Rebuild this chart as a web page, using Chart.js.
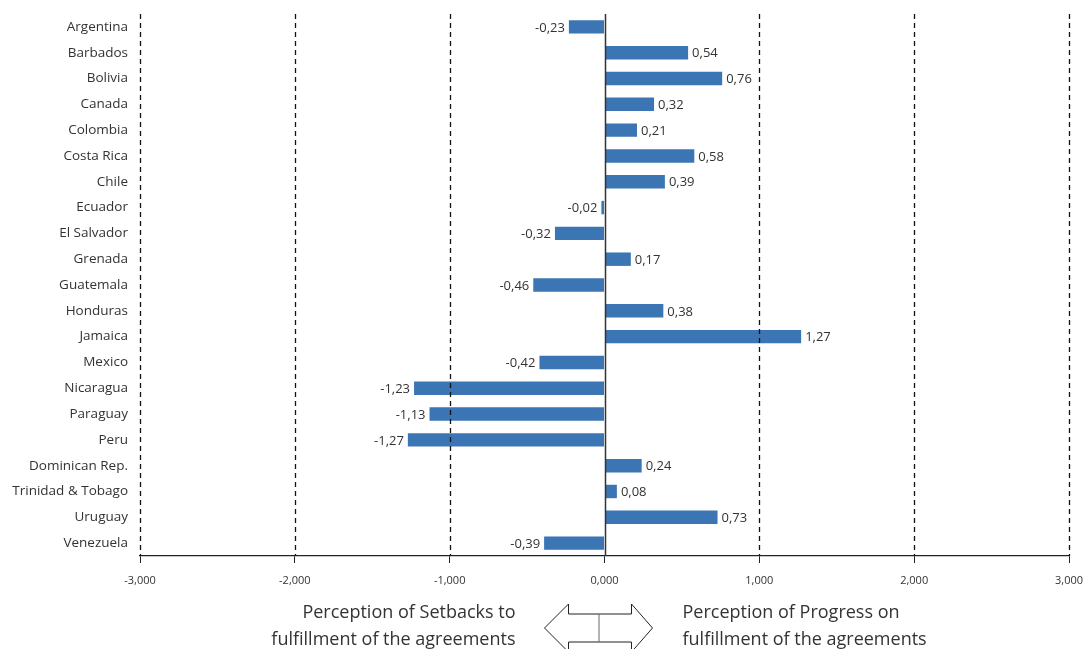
<!DOCTYPE html>
<html lang="en">
<head>
  <meta charset="UTF-8">
  <title>Perception of progress on agreements</title>
  <script src="https://cdn.jsdelivr.net/npm/chart.js"></script>
  <style>
    body { margin: 0; background: #fff; }
    #wrap { width: 1083px; height: 649px; position: relative; }
  </style>
</head>
<body>
  <div id="wrap"><canvas id="perceptionChart"></canvas></div>

  <script>
    const countries = ['Argentina', 'Barbados', 'Bolivia', 'Canada', 'Colombia', 'Costa Rica', 'Chile',
      'Ecuador', 'El Salvador', 'Grenada', 'Guatemala', 'Honduras', 'Jamaica', 'Mexico', 'Nicaragua',
      'Paraguay', 'Peru', 'Dominican Rep.', 'Trinidad & Tobago', 'Uruguay', 'Venezuela'];
    const scores = [-0.23, 0.54, 0.76, 0.32, 0.21, 0.58, 0.39, -0.02, -0.32, 0.17, -0.46, 0.38, 1.27,
      -0.42, -1.23, -1.13, -1.27, 0.24, 0.08, 0.73, -0.39];
    const xTicks = [-3, -2, -1, 0, 1, 2, 3];
    const leftNote = ['Perception of Setbacks to', 'fulfillment of the agreements'];
    const rightNote = ['Perception of Progress on', 'fulfillment of the agreements'];

    const FONT = '"Open Sans", "DejaVu Sans", sans-serif';
    const comma = (v, d) => v.toFixed(d).replace('.', ',');

    // dashed grid drawn over the bars, solid line at zero
    const gridOnTop = {
      id: 'gridOnTop',
      afterDatasetsDraw(chart) {
        const ctx = chart.ctx, x = chart.scales.x, area = chart.chartArea;
        ctx.save();
        xTicks.forEach(t => {
          const px = Math.round(x.getPixelForValue(t)) + 0.5;
          ctx.beginPath();
          ctx.lineWidth = t === 0 ? 1.5 : 1.3;
          ctx.strokeStyle = t === 0 ? '#333' : '#111';
          ctx.setLineDash(t === 0 ? [] : [5, 4]);
          ctx.moveTo(px, area.top);
          ctx.lineTo(px, area.bottom);
          ctx.stroke();
        });
        ctx.restore();
      }
    };

    const valueLabels = {
      id: 'valueLabels',
      afterDatasetsDraw(chart) {
        const ctx = chart.ctx;
        const meta = chart.getDatasetMeta(0);
        ctx.save();
        ctx.font = '13px ' + FONT;
        ctx.fillStyle = '#333';
        ctx.textBaseline = 'middle';
        meta.data.forEach((bar, i) => {
          const v = scores[i];
          ctx.textAlign = v < 0 ? 'right' : 'left';
          ctx.fillText(comma(v, 2), bar.x + (v < 0 ? -4 : 4), bar.y + 1);
        });
        ctx.restore();
      }
    };

    const arrowNote = {
      id: 'arrowNote',
      afterDraw(chart) {
        const ctx = chart.ctx;
        const cx = chart.scales.x.getPixelForValue(0) - 6;
        const cy = 628;
        ctx.save();
        // double-headed arrow
        ctx.strokeStyle = '#222';
        ctx.lineWidth = 1;
        ctx.beginPath();
        ctx.moveTo(cx - 54, cy);
        ctx.lineTo(cx - 30, cy - 24);
        ctx.lineTo(cx - 30, cy - 14);
        ctx.lineTo(cx + 33, cy - 14);
        ctx.lineTo(cx + 33, cy - 24);
        ctx.lineTo(cx + 54, cy);
        ctx.lineTo(cx + 33, cy + 24);
        ctx.lineTo(cx + 33, cy + 14);
        ctx.lineTo(cx - 30, cy + 14);
        ctx.lineTo(cx - 30, cy + 24);
        ctx.closePath();
        ctx.stroke();
        ctx.strokeStyle = '#666';
        ctx.beginPath();
        ctx.moveTo(cx + 0.5, cy - 14);
        ctx.lineTo(cx + 0.5, cy + 14);
        ctx.stroke();
        // notes
        ctx.font = '18px ' + FONT;
        ctx.fillStyle = '#333';
        ctx.textBaseline = 'middle';
        ctx.textAlign = 'right';
        leftNote.forEach((s, i) => ctx.fillText(s, cx - 83, 613 + i * 27));
        ctx.textAlign = 'left';
        rightNote.forEach((s, i) => ctx.fillText(s, cx + 84, 613 + i * 27));
        ctx.restore();
      }
    };

    new Chart(perceptionChart, {
      type: 'bar',
      data: {
        labels: countries,
        datasets: [{
          data: scores,
          backgroundColor: '#3b75b3',
          barPercentage: 0.52,
          categoryPercentage: 1
        }]
      },
      options: {
        indexAxis: 'y',
        responsive: true,
        maintainAspectRatio: false,
        animation: false,
        layout: { padding: { top: 14, right: 14, left: 0, bottom: 0 } },
        plugins: { legend: { display: false }, tooltip: { enabled: false } },
        scales: {
          x: {
            min: -3,
            max: 3,
            afterBuildTicks: s => { s.ticks = xTicks.map(v => ({ value: v })); },
            afterFit: s => { s.height = 93; s.paddingRight = 0; s.paddingLeft = 0; },
            grid: { drawOnChartArea: false, drawTicks: true, tickLength: 7, color: '#222' },
            border: { display: true, color: '#222', width: 1.3 },
            ticks: {
              padding: 11,
              color: '#333',
              font: { family: FONT, size: 11 },
              callback: v => comma(v, 3)
            }
          },
          y: {
            afterFit: s => { s.width = 140; s.paddingTop = 0; s.paddingBottom = 0; },
            grid: { display: false },
            border: { display: false },
            ticks: {
              padding: 4,
              color: '#333',
              font: { family: FONT, size: 13.5 }
            }
          }
        }
      },
      plugins: [gridOnTop, valueLabels, arrowNote]
    });
  </script>
</body>
</html>
